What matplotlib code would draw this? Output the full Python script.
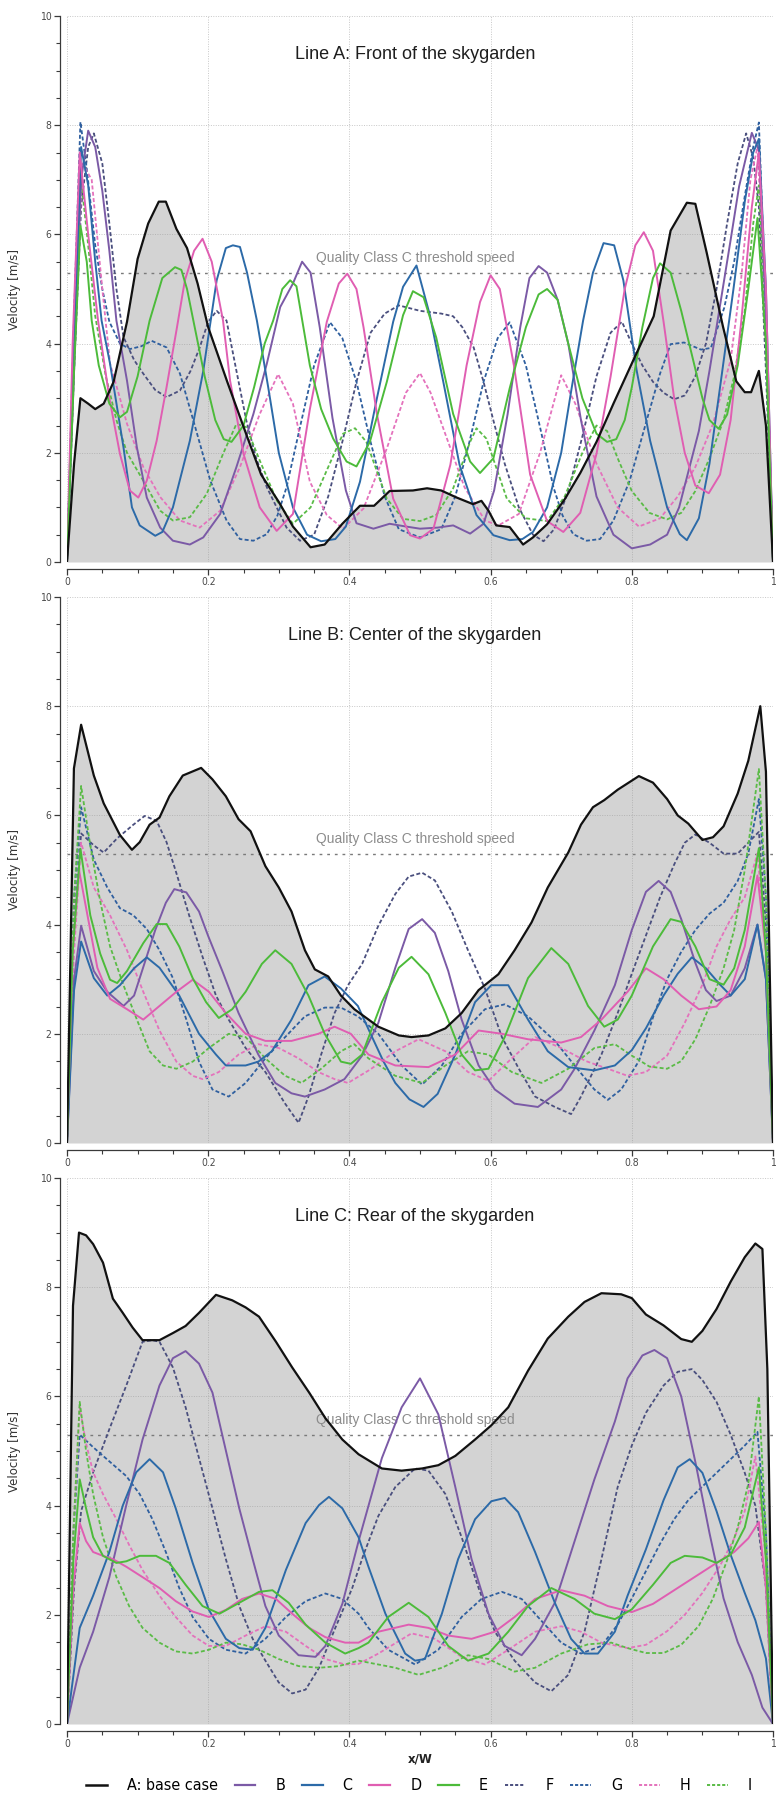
import matplotlib
matplotlib.use("Agg")
import matplotlib.pyplot as plt
from matplotlib.ticker import MultipleLocator, FuncFormatter
from matplotlib.lines import Line2D
from matplotlib.font_manager import FontProperties

series_labels = ["A: base case", "B", "C", "D", "E", "F", "G", "H", "I"]
series_colors = ["#111111", "#7b5aa6", "#2c6aa8", "#e05eb2", "#4cbb3a",
                 "#4a4f7e", "#2f5f9f", "#e472bc", "#5abb46"]
series_dashed = [False, False, False, False, False, True, True, True, True]
panel_titles = ["Line A: Front of the skygarden",
                "Line B: Center of the skygarden",
                "Line C: Rear of the skygarden"]
threshold_speed = 5.3
threshold_label = "Quality Class C threshold speed"

# ---------------- Line A: front ----------------
front_A = [(0,0),(0.01,1.8),(0.019,3.0),(0.03,2.9),(0.04,2.8),(0.052,2.9),(0.066,3.3),(0.085,4.4),(0.1,5.55),(0.115,6.2),(0.13,6.6),(0.14,6.6),(0.155,6.1),(0.17,5.75),(0.185,5.1),(0.2,4.3),(0.227,3.3),(0.255,2.3),(0.275,1.6),(0.3,1.1),(0.32,0.65),(0.345,0.27),(0.365,0.32),(0.39,0.7),(0.415,1.03),(0.435,1.03),(0.457,1.3),(0.49,1.31),(0.51,1.35),(0.53,1.31),(0.552,1.18),(0.575,1.06),(0.587,1.12),(0.597,0.94),(0.608,0.67),(0.627,0.64),(0.646,0.32),(0.66,0.45),(0.68,0.69),(0.705,1.15),(0.727,1.63),(0.75,2.2),(0.774,2.9),(0.803,3.72),(0.831,4.5),(0.855,6.07),(0.878,6.58),(0.89,6.56),(0.906,5.67),(0.929,4.32),(0.948,3.31),(0.96,3.11),(0.969,3.11),(0.98,3.5),(0.99,2.5),(1.0,0)]
front_B = [(0,0),(0.01,3.5),(0.02,7.0),(0.03,7.9),(0.04,7.6),(0.05,6.8),(0.06,5.7),(0.07,4.42),(0.085,3.32),(0.099,2.1),(0.113,1.18),(0.132,0.63),(0.15,0.39),(0.174,0.32),(0.193,0.45),(0.217,0.88),(0.24,1.74),(0.264,2.71),(0.283,3.63),(0.302,4.67),(0.32,5.1),(0.333,5.5),(0.345,5.3),(0.358,4.3),(0.376,2.64),(0.395,1.31),(0.41,0.71),(0.434,0.61),(0.457,0.7),(0.48,0.65),(0.5,0.61),(0.525,0.63),(0.547,0.67),(0.571,0.52),(0.59,0.7),(0.605,1.31),(0.624,2.7),(0.642,4.3),(0.655,5.2),(0.668,5.42),(0.68,5.3),(0.695,4.8),(0.71,4.0),(0.728,2.6),(0.75,1.2),(0.774,0.5),(0.8,0.25),(0.826,0.32),(0.85,0.5),(0.867,1.0),(0.895,2.4),(0.91,3.5),(0.925,4.7),(0.94,5.9),(0.952,6.88),(0.97,7.86),(0.98,7.55),(0.99,4.5),(1.0,0)]
front_C = [(0,0),(0.01,4.0),(0.02,7.6),(0.03,6.9),(0.04,5.5),(0.049,4.42),(0.061,3.63),(0.08,2.1),(0.092,1.0),(0.103,0.67),(0.125,0.48),(0.135,0.55),(0.15,1.0),(0.174,2.22),(0.193,3.5),(0.212,5.16),(0.225,5.75),(0.235,5.8),(0.245,5.77),(0.255,5.3),(0.269,4.42),(0.285,3.2),(0.3,2.0),(0.32,1.0),(0.34,0.5),(0.36,0.38),(0.38,0.42),(0.395,0.65),(0.415,1.47),(0.439,3.0),(0.462,4.4),(0.476,5.04),(0.495,5.43),(0.514,4.52),(0.533,3.3),(0.556,1.78),(0.58,0.86),(0.604,0.49),(0.627,0.4),(0.645,0.42),(0.66,0.55),(0.68,1.0),(0.7,2.0),(0.715,3.2),(0.731,4.42),(0.745,5.3),(0.76,5.84),(0.775,5.8),(0.788,5.16),(0.807,3.5),(0.826,2.22),(0.85,1.0),(0.868,0.51),(0.878,0.4),(0.895,0.8),(0.91,1.8),(0.925,3.2),(0.944,5.0),(0.96,6.6),(0.972,7.5),(0.98,7.75),(0.99,5.0),(1.0,0)]
front_D = [(0,0),(0.008,4.0),(0.018,7.5),(0.03,6.0),(0.044,4.42),(0.06,3.0),(0.075,1.98),(0.089,1.31),(0.101,1.18),(0.113,1.49),(0.127,2.22),(0.141,3.2),(0.155,4.24),(0.167,5.16),(0.18,5.7),(0.192,5.92),(0.205,5.5),(0.221,4.42),(0.231,3.32),(0.25,1.98),(0.273,1.0),(0.297,0.57),(0.32,0.88),(0.344,2.8),(0.368,4.4),(0.385,5.1),(0.397,5.28),(0.41,5.0),(0.42,4.3),(0.439,2.71),(0.462,1.16),(0.486,0.49),(0.5,0.43),(0.519,0.61),(0.543,1.78),(0.566,3.6),(0.585,4.76),(0.6,5.25),(0.613,5.0),(0.633,3.6),(0.656,1.6),(0.68,0.75),(0.703,0.55),(0.727,0.9),(0.75,1.98),(0.77,3.4),(0.79,5.0),(0.805,5.8),(0.817,6.04),(0.83,5.7),(0.845,4.4),(0.86,3.0),(0.875,2.0),(0.89,1.4),(0.909,1.26),(0.925,1.6),(0.94,2.6),(0.955,4.4),(0.97,6.5),(0.98,7.5),(0.99,5.0),(1.0,0)]
front_E = [(0,0),(0.01,3.5),(0.019,6.16),(0.028,5.5),(0.035,4.42),(0.045,3.6),(0.06,2.9),(0.075,2.65),(0.085,2.75),(0.1,3.4),(0.117,4.42),(0.135,5.2),(0.153,5.4),(0.162,5.35),(0.17,5.0),(0.179,4.42),(0.195,3.4),(0.21,2.6),(0.222,2.25),(0.233,2.2),(0.25,2.5),(0.265,3.2),(0.28,4.0),(0.292,4.42),(0.305,5.0),(0.316,5.16),(0.325,5.05),(0.344,3.6),(0.36,2.8),(0.377,2.26),(0.396,1.84),(0.41,1.75),(0.429,2.2),(0.453,3.3),(0.476,4.52),(0.49,4.96),(0.505,4.85),(0.523,4.11),(0.547,2.71),(0.571,1.84),(0.585,1.63),(0.604,1.9),(0.627,3.18),(0.65,4.3),(0.668,4.9),(0.68,5.0),(0.695,4.8),(0.71,4.0),(0.73,3.0),(0.75,2.35),(0.765,2.2),(0.778,2.25),(0.79,2.6),(0.8,3.2),(0.815,4.3),(0.83,5.2),(0.84,5.47),(0.855,5.3),(0.87,4.6),(0.885,3.8),(0.9,3.0),(0.91,2.6),(0.923,2.44),(0.935,2.7),(0.95,3.6),(0.965,5.0),(0.978,6.3),(0.99,4.0),(1.0,0)]
front_F = [(0,0),(0.01,3.5),(0.02,6.5),(0.03,7.6),(0.038,7.85),(0.05,7.3),(0.06,6.2),(0.07,5.0),(0.08,4.12),(0.095,3.7),(0.108,3.45),(0.125,3.15),(0.141,3.02),(0.16,3.14),(0.175,3.5),(0.188,3.93),(0.2,4.4),(0.212,4.6),(0.226,4.42),(0.24,3.5),(0.254,2.59),(0.268,1.9),(0.283,1.37),(0.311,0.63),(0.33,0.39),(0.35,0.5),(0.37,1.2),(0.39,2.2),(0.41,3.3),(0.43,4.2),(0.45,4.55),(0.47,4.7),(0.5,4.6),(0.53,4.55),(0.547,4.5),(0.56,4.3),(0.576,3.93),(0.59,3.3),(0.604,2.59),(0.62,1.8),(0.64,1.0),(0.66,0.5),(0.675,0.38),(0.69,0.6),(0.71,1.3),(0.73,2.3),(0.75,3.4),(0.77,4.2),(0.786,4.4),(0.8,4.0),(0.815,3.6),(0.83,3.3),(0.845,3.1),(0.86,2.98),(0.875,3.05),(0.89,3.4),(0.905,4.0),(0.92,5.0),(0.935,6.2),(0.95,7.3),(0.962,7.85),(0.972,7.4),(0.98,6.5),(0.99,3.5),(1.0,0)]
front_G = [(0,0),(0.01,4.5),(0.019,8.06),(0.028,7.2),(0.04,5.8),(0.05,5.0),(0.06,4.4),(0.075,4.0),(0.089,3.9),(0.105,3.95),(0.12,4.05),(0.141,3.93),(0.16,3.45),(0.179,2.59),(0.203,1.49),(0.226,0.76),(0.245,0.42),(0.264,0.39),(0.283,0.51),(0.298,0.85),(0.311,1.37),(0.33,2.47),(0.35,3.6),(0.3725,4.39),(0.39,4.1),(0.41,3.3),(0.43,2.2),(0.45,1.2),(0.47,0.6),(0.5,0.45),(0.53,0.6),(0.55,1.2),(0.57,2.2),(0.59,3.3),(0.61,4.1),(0.627,4.39),(0.65,3.6),(0.67,2.47),(0.689,1.37),(0.702,0.85),(0.717,0.51),(0.736,0.39),(0.755,0.42),(0.774,0.76),(0.797,1.49),(0.821,2.59),(0.84,3.45),(0.855,3.99),(0.874,4.02),(0.898,3.89),(0.912,3.92),(0.931,4.66),(0.945,5.5),(0.96,6.7),(0.972,7.6),(0.98,8.05),(0.99,4.5),(1.0,0)]
front_H = [(0,0),(0.01,4.0),(0.022,7.3),(0.035,7.0),(0.05,5.0),(0.061,3.63),(0.075,3.0),(0.085,2.53),(0.108,1.74),(0.132,1.19),(0.16,0.76),(0.188,0.63),(0.217,0.94),(0.245,1.74),(0.273,2.71),(0.299,3.44),(0.32,2.9),(0.344,1.47),(0.368,0.86),(0.391,0.61),(0.42,0.98),(0.453,2.08),(0.48,3.1),(0.5,3.46),(0.515,3.1),(0.534,2.41),(0.563,1.37),(0.592,0.76),(0.611,0.67),(0.64,0.88),(0.67,2.0),(0.7,3.42),(0.72,2.9),(0.75,1.8),(0.78,1.0),(0.81,0.65),(0.84,0.8),(0.865,1.2),(0.89,1.74),(0.915,2.53),(0.925,3.0),(0.94,3.7),(0.955,5.2),(0.968,7.0),(0.978,7.6),(0.99,4.5),(1.0,0)]
front_I = [(0,0),(0.01,4.0),(0.02,7.0),(0.03,5.8),(0.04,4.5),(0.055,3.4),(0.07,2.6),(0.085,2.0),(0.108,1.49),(0.132,0.94),(0.15,0.76),(0.174,0.82),(0.198,1.25),(0.221,1.98),(0.24,2.53),(0.254,2.47),(0.273,1.86),(0.297,1.13),(0.32,0.7),(0.345,1.0),(0.368,1.68),(0.391,2.35),(0.408,2.45),(0.424,2.2),(0.453,1.16),(0.476,0.79),(0.5,0.75),(0.523,0.86),(0.547,1.35),(0.571,2.2),(0.58,2.45),(0.594,2.26),(0.623,1.16),(0.65,0.8),(0.68,0.75),(0.705,1.2),(0.73,2.0),(0.75,2.5),(0.765,2.4),(0.78,1.9),(0.8,1.3),(0.825,0.9),(0.85,0.78),(0.87,0.9),(0.89,1.3),(0.91,1.9),(0.93,2.6),(0.945,3.4),(0.96,4.6),(0.972,6.2),(0.98,6.9),(0.99,4.0),(1.0,0)]

# ---------------- Line B: center ----------------
center_A = [(0,0),(0.0098,6.86),(0.02,7.66),(0.038,6.73),(0.052,6.22),(0.075,5.64),(0.092,5.37),(0.103,5.51),(0.117,5.83),(0.131,5.96),(0.145,6.35),(0.164,6.73),(0.19,6.87),(0.206,6.66),(0.225,6.35),(0.243,5.93),(0.26,5.71),(0.281,5.07),(0.3,4.68),(0.318,4.24),(0.337,3.53),(0.351,3.18),(0.37,3.05),(0.388,2.7),(0.407,2.45),(0.441,2.13),(0.47,1.97),(0.488,1.94),(0.512,1.97),(0.536,2.1),(0.559,2.38),(0.583,2.8),(0.611,3.09),(0.634,3.53),(0.658,4.04),(0.681,4.68),(0.71,5.32),(0.728,5.83),(0.745,6.15),(0.761,6.28),(0.78,6.47),(0.81,6.72),(0.83,6.6),(0.85,6.3),(0.865,6.0),(0.88,5.85),(0.9,5.55),(0.915,5.6),(0.93,5.8),(0.95,6.4),(0.965,7.0),(0.982,8.0),(0.99,6.8),(1.0,0)]
center_B = [(0,0),(0.01,3.0),(0.02,3.98),(0.038,3.15),(0.057,2.77),(0.08,2.51),(0.095,2.7),(0.11,3.3),(0.125,3.9),(0.14,4.4),(0.152,4.65),(0.169,4.59),(0.187,4.24),(0.2,3.79),(0.22,3.15),(0.243,2.38),(0.271,1.62),(0.295,1.1),(0.318,0.91),(0.337,0.85),(0.365,0.98),(0.393,1.17),(0.418,1.6),(0.441,2.2),(0.465,3.21),(0.484,3.92),(0.503,4.1),(0.521,3.85),(0.54,3.15),(0.559,2.26),(0.583,1.42),(0.606,0.98),(0.634,0.72),(0.667,0.66),(0.7,0.98),(0.719,1.36),(0.747,2.06),(0.776,2.89),(0.8,3.9),(0.82,4.6),(0.838,4.8),(0.855,4.6),(0.87,4.1),(0.89,3.3),(0.905,2.8),(0.92,2.6),(0.94,2.7),(0.96,3.2),(0.978,4.0),(0.99,3.0),(1.0,0)]
center_C = [(0,0),(0.01,2.8),(0.02,3.69),(0.038,3.02),(0.057,2.7),(0.075,2.89),(0.095,3.2),(0.113,3.4),(0.131,3.21),(0.159,2.7),(0.187,2.0),(0.211,1.62),(0.225,1.42),(0.253,1.42),(0.271,1.49),(0.29,1.68),(0.318,2.26),(0.342,2.89),(0.365,3.05),(0.388,2.83),(0.412,2.51),(0.43,2.0),(0.448,1.5),(0.465,1.1),(0.485,0.8),(0.505,0.66),(0.525,0.9),(0.55,1.62),(0.578,2.58),(0.601,2.89),(0.625,2.89),(0.653,2.26),(0.681,1.68),(0.71,1.39),(0.747,1.33),(0.776,1.42),(0.8,1.7),(0.82,2.1),(0.845,2.7),(0.865,3.1),(0.885,3.4),(0.905,3.2),(0.925,2.9),(0.94,2.7),(0.96,3.0),(0.978,4.0),(0.99,3.0),(1.0,0)]
center_D = [(0,0),(0.008,3.5),(0.017,5.0),(0.029,4.17),(0.043,3.21),(0.061,2.64),(0.085,2.45),(0.108,2.26),(0.131,2.51),(0.155,2.77),(0.178,2.99),(0.201,2.77),(0.225,2.38),(0.253,2.0),(0.281,1.87),(0.318,1.87),(0.356,2.0),(0.379,2.13),(0.402,2.0),(0.427,1.62),(0.465,1.42),(0.512,1.39),(0.55,1.62),(0.583,2.06),(0.616,2.0),(0.653,1.9),(0.7,1.84),(0.728,1.94),(0.757,2.26),(0.794,2.77),(0.82,3.2),(0.845,3.0),(0.87,2.7),(0.895,2.45),(0.92,2.5),(0.94,2.8),(0.96,3.6),(0.978,4.9),(0.99,3.5),(1.0,0)]
center_E = [(0,0),(0.008,3.5),(0.019,5.39),(0.033,4.17),(0.047,3.47),(0.061,2.99),(0.071,2.93),(0.085,3.15),(0.108,3.66),(0.127,4.01),(0.141,4.01),(0.159,3.6),(0.178,3.02),(0.197,2.58),(0.215,2.29),(0.234,2.45),(0.253,2.77),(0.276,3.28),(0.295,3.53),(0.318,3.28),(0.342,2.7),(0.365,2.0),(0.388,1.49),(0.402,1.45),(0.418,1.62),(0.446,2.58),(0.47,3.21),(0.488,3.41),(0.512,3.09),(0.536,2.38),(0.559,1.62),(0.578,1.33),(0.597,1.36),(0.62,1.94),(0.653,3.02),(0.686,3.57),(0.71,3.28),(0.738,2.51),(0.761,2.13),(0.78,2.26),(0.8,2.7),(0.83,3.6),(0.855,4.1),(0.87,4.05),(0.89,3.6),(0.91,3.0),(0.93,2.9),(0.945,3.2),(0.96,3.9),(0.98,5.4),(0.99,3.5),(1.0,0)]
center_F = [(0,0),(0.01,4.0),(0.02,5.67),(0.038,5.45),(0.052,5.32),(0.071,5.58),(0.094,5.83),(0.11,5.99),(0.127,5.9),(0.141,5.51),(0.155,4.94),(0.173,4.17),(0.192,3.41),(0.211,2.7),(0.229,2.26),(0.253,1.74),(0.281,1.3),(0.309,0.72),(0.328,0.37),(0.342,0.85),(0.36,1.62),(0.379,2.38),(0.398,2.89),(0.418,3.28),(0.441,3.98),(0.465,4.56),(0.484,4.88),(0.503,4.95),(0.521,4.81),(0.545,4.24),(0.568,3.53),(0.592,2.83),(0.616,1.94),(0.64,1.36),(0.663,0.85),(0.691,0.66),(0.714,0.53),(0.728,0.85),(0.757,1.62),(0.78,2.38),(0.8,3.1),(0.82,3.8),(0.84,4.5),(0.86,5.1),(0.875,5.5),(0.89,5.65),(0.91,5.5),(0.93,5.3),(0.95,5.3),(0.965,5.5),(0.98,5.7),(0.99,4.0),(1.0,0)]
center_G = [(0,0),(0.01,4.5),(0.02,6.15),(0.038,5.19),(0.057,4.68),(0.075,4.3),(0.094,4.17),(0.113,3.92),(0.131,3.53),(0.15,3.02),(0.169,2.26),(0.187,1.49),(0.206,0.98),(0.229,0.85),(0.253,1.1),(0.281,1.55),(0.309,1.94),(0.337,2.32),(0.365,2.48),(0.388,2.48),(0.412,2.32),(0.441,2.0),(0.474,1.42),(0.503,1.07),(0.531,1.42),(0.559,2.0),(0.592,2.45),(0.62,2.54),(0.653,2.32),(0.691,1.87),(0.719,1.42),(0.747,0.98),(0.766,0.79),(0.785,0.98),(0.81,1.5),(0.83,2.3),(0.85,3.0),(0.87,3.5),(0.89,3.9),(0.91,4.2),(0.93,4.4),(0.95,4.8),(0.965,5.3),(0.98,6.3),(0.99,4.5),(1.0,0)]
center_H = [(0,0),(0.01,3.5),(0.02,5.5),(0.038,4.68),(0.061,4.17),(0.085,3.53),(0.108,2.77),(0.131,2.06),(0.155,1.49),(0.178,1.23),(0.192,1.17),(0.215,1.3),(0.243,1.62),(0.271,1.81),(0.3,1.74),(0.328,1.55),(0.356,1.3),(0.379,1.17),(0.398,1.1),(0.43,1.35),(0.465,1.68),(0.498,1.9),(0.536,1.68),(0.568,1.3),(0.597,1.14),(0.625,1.49),(0.663,1.94),(0.7,1.74),(0.735,1.5),(0.766,1.36),(0.794,1.23),(0.82,1.3),(0.85,1.6),(0.875,2.2),(0.9,2.9),(0.92,3.6),(0.94,4.1),(0.96,4.5),(0.978,5.3),(0.99,3.5),(1.0,0)]
center_I = [(0,0),(0.01,4.5),(0.02,6.54),(0.033,5.45),(0.047,4.43),(0.061,3.6),(0.08,2.89),(0.099,2.26),(0.117,1.68),(0.136,1.42),(0.155,1.36),(0.178,1.49),(0.201,1.74),(0.229,2.0),(0.253,1.94),(0.281,1.55),(0.309,1.23),(0.332,1.1),(0.36,1.36),(0.388,1.68),(0.407,1.81),(0.427,1.55),(0.465,1.23),(0.503,1.1),(0.536,1.42),(0.568,1.68),(0.597,1.62),(0.63,1.3),(0.672,1.1),(0.71,1.36),(0.747,1.74),(0.776,1.81),(0.8,1.6),(0.825,1.4),(0.85,1.36),(0.87,1.5),(0.89,1.9),(0.91,2.5),(0.93,3.2),(0.945,3.9),(0.96,5.0),(0.98,6.85),(0.99,4.5),(1.0,0)]

# ---------------- Line C: rear ----------------
rear_A = [(0,0),(0.0085,7.66),(0.017,9.0),(0.027,8.95),(0.037,8.79),(0.051,8.45),(0.065,7.79),(0.079,7.53),(0.093,7.26),(0.107,7.03),(0.131,7.03),(0.15,7.16),(0.168,7.29),(0.187,7.53),(0.211,7.86),(0.234,7.76),(0.253,7.63),(0.272,7.46),(0.296,7.0),(0.319,6.53),(0.343,6.07),(0.366,5.6),(0.39,5.21),(0.413,4.94),(0.446,4.68),(0.474,4.64),(0.503,4.68),(0.526,4.74),(0.55,4.91),(0.578,5.21),(0.601,5.47),(0.625,5.8),(0.653,6.47),(0.681,7.06),(0.71,7.46),(0.733,7.73),(0.757,7.89),(0.785,7.87),(0.8,7.8),(0.82,7.5),(0.845,7.3),(0.87,7.05),(0.885,7.0),(0.9,7.2),(0.92,7.6),(0.94,8.1),(0.96,8.55),(0.975,8.8),(0.985,8.7),(0.992,6.5),(1.0,0)]
rear_B = [(0,0),(0.018,1.03),(0.037,1.69),(0.06,2.69),(0.084,4.01),(0.107,5.21),(0.131,6.2),(0.15,6.7),(0.168,6.83),(0.187,6.6),(0.206,6.07),(0.225,5.01),(0.244,3.95),(0.263,3.02),(0.281,2.16),(0.3,1.62),(0.328,1.26),(0.352,1.23),(0.366,1.43),(0.39,2.2),(0.413,3.35),(0.446,4.87),(0.474,5.8),(0.5,6.33),(0.526,5.67),(0.55,4.34),(0.573,3.02),(0.597,2.02),(0.62,1.43),(0.644,1.26),(0.663,1.56),(0.691,2.22),(0.719,3.35),(0.747,4.48),(0.776,5.54),(0.794,6.33),(0.815,6.75),(0.832,6.85),(0.85,6.7),(0.87,6.0),(0.89,4.8),(0.91,3.5),(0.93,2.3),(0.95,1.5),(0.97,0.9),(0.985,0.3),(1.0,0)]
rear_C = [(0,0),(0.018,1.76),(0.037,2.35),(0.06,3.15),(0.079,4.0),(0.098,4.61),(0.117,4.85),(0.136,4.61),(0.154,3.95),(0.178,2.95),(0.201,2.09),(0.225,1.56),(0.244,1.39),(0.263,1.36),(0.281,1.76),(0.31,2.82),(0.338,3.68),(0.357,4.01),(0.371,4.16),(0.39,3.95),(0.413,3.42),(0.427,2.88),(0.451,2.02),(0.479,1.29),(0.493,1.16),(0.507,1.19),(0.531,2.02),(0.554,3.02),(0.578,3.75),(0.601,4.08),(0.62,4.14),(0.639,3.88),(0.663,3.15),(0.691,2.22),(0.714,1.56),(0.733,1.29),(0.752,1.29),(0.776,1.69),(0.794,2.35),(0.82,3.2),(0.845,4.1),(0.865,4.7),(0.882,4.85),(0.9,4.6),(0.92,3.9),(0.94,3.1),(0.96,2.4),(0.975,1.9),(0.99,1.2),(1.0,0)]
rear_D = [(0,0),(0.009,2.5),(0.018,3.68),(0.027,3.35),(0.037,3.15),(0.051,3.08),(0.065,3.02),(0.084,2.88),(0.107,2.69),(0.131,2.49),(0.154,2.25),(0.178,2.06),(0.201,1.96),(0.225,2.09),(0.248,2.29),(0.272,2.39),(0.296,2.29),(0.319,2.02),(0.343,1.76),(0.366,1.59),(0.394,1.49),(0.413,1.49),(0.441,1.69),(0.484,1.82),(0.512,1.76),(0.54,1.62),(0.573,1.56),(0.606,1.69),(0.634,1.96),(0.663,2.29),(0.7,2.45),(0.733,2.35),(0.766,2.16),(0.8,2.05),(0.83,2.2),(0.86,2.45),(0.89,2.7),(0.92,2.95),(0.945,3.15),(0.965,3.4),(0.98,3.7),(0.99,2.5),(1.0,0)]
rear_E = [(0,0),(0.009,3.0),(0.018,4.48),(0.027,3.95),(0.037,3.42),(0.051,3.08),(0.07,2.95),(0.084,2.98),(0.103,3.08),(0.126,3.08),(0.145,2.95),(0.168,2.55),(0.192,2.16),(0.216,2.02),(0.244,2.22),(0.272,2.42),(0.291,2.45),(0.314,2.22),(0.338,1.82),(0.366,1.49),(0.394,1.29),(0.413,1.39),(0.427,1.49),(0.455,1.96),(0.484,2.22),(0.512,1.96),(0.54,1.43),(0.568,1.16),(0.597,1.29),(0.625,1.69),(0.653,2.16),(0.686,2.49),(0.719,2.29),(0.747,2.02),(0.776,1.92),(0.8,2.1),(0.83,2.55),(0.855,2.95),(0.875,3.08),(0.9,3.05),(0.92,2.95),(0.94,3.1),(0.96,3.6),(0.98,4.7),(0.99,3.0),(1.0,0)]
rear_F = [(0,0),(0.01,2.5),(0.02,3.9),(0.037,4.61),(0.06,5.4),(0.084,6.2),(0.107,7.0),(0.121,7.03),(0.131,7.0),(0.15,6.53),(0.168,5.8),(0.187,4.87),(0.206,3.95),(0.225,3.02),(0.244,2.16),(0.263,1.56),(0.281,1.16),(0.3,0.76),(0.319,0.56),(0.338,0.63),(0.357,1.03),(0.38,1.76),(0.404,2.49),(0.42,3.1),(0.441,3.81),(0.465,4.34),(0.493,4.68),(0.512,4.64),(0.536,4.21),(0.559,3.42),(0.583,2.49),(0.606,1.69),(0.634,1.16),(0.663,0.76),(0.686,0.6),(0.71,0.9),(0.733,1.69),(0.757,3.02),(0.78,4.34),(0.8,5.1),(0.82,5.7),(0.845,6.2),(0.865,6.45),(0.885,6.5),(0.9,6.3),(0.92,5.9),(0.94,5.3),(0.96,4.6),(0.975,4.0),(0.99,2.5),(1.0,0)]
rear_G = [(0,0),(0.009,3.5),(0.018,5.3),(0.037,5.07),(0.06,4.81),(0.084,4.54),(0.103,4.21),(0.121,3.75),(0.14,3.15),(0.159,2.49),(0.178,1.96),(0.201,1.56),(0.225,1.36),(0.253,1.29),(0.281,1.56),(0.31,1.96),(0.338,2.25),(0.366,2.39),(0.39,2.29),(0.413,2.02),(0.427,1.76),(0.455,1.36),(0.493,1.09),(0.526,1.36),(0.559,1.96),(0.587,2.29),(0.616,2.42),(0.644,2.29),(0.672,1.89),(0.7,1.49),(0.728,1.29),(0.757,1.43),(0.78,1.82),(0.8,2.3),(0.82,2.8),(0.84,3.3),(0.86,3.75),(0.88,4.1),(0.9,4.35),(0.92,4.6),(0.94,4.85),(0.96,5.1),(0.978,5.35),(0.99,3.5),(1.0,0)]
rear_H = [(0,0),(0.009,3.5),(0.018,5.8),(0.027,5.14),(0.037,4.61),(0.051,4.21),(0.07,3.75),(0.088,3.28),(0.107,2.82),(0.131,2.35),(0.154,1.96),(0.178,1.62),(0.201,1.43),(0.225,1.43),(0.253,1.62),(0.281,1.79),(0.31,1.69),(0.338,1.43),(0.366,1.19),(0.394,1.09),(0.413,1.1),(0.441,1.29),(0.488,1.66),(0.521,1.56),(0.559,1.23),(0.592,1.09),(0.625,1.36),(0.663,1.69),(0.7,1.79),(0.728,1.69),(0.757,1.49),(0.794,1.39),(0.82,1.45),(0.85,1.7),(0.875,2.0),(0.9,2.4),(0.925,2.9),(0.945,3.4),(0.96,3.9),(0.975,4.9),(0.99,3.0),(1.0,0)]
rear_I = [(0,0),(0.009,3.5),(0.018,5.9),(0.027,5.0),(0.037,4.21),(0.051,3.42),(0.07,2.69),(0.088,2.16),(0.107,1.76),(0.131,1.49),(0.154,1.33),(0.178,1.29),(0.201,1.36),(0.225,1.49),(0.248,1.46),(0.272,1.36),(0.3,1.19),(0.328,1.06),(0.357,1.03),(0.385,1.06),(0.413,1.16),(0.441,1.09),(0.465,1.03),(0.498,0.9),(0.531,1.03),(0.568,1.26),(0.597,1.19),(0.634,0.96),(0.663,1.03),(0.7,1.29),(0.738,1.46),(0.771,1.49),(0.794,1.39),(0.82,1.3),(0.845,1.3),(0.87,1.45),(0.895,1.8),(0.915,2.3),(0.935,3.0),(0.95,3.6),(0.965,4.4),(0.98,6.0),(0.99,3.5),(1.0,0)]

panels = [
    (panel_titles[0], [front_A, front_B, front_C, front_D, front_E, front_F, front_G, front_H, front_I]),
    (panel_titles[1], [center_A, center_B, center_C, center_D, center_E, center_F, center_G, center_H, center_I]),
    (panel_titles[2], [rear_A, rear_B, rear_C, rear_D, rear_E, rear_F, rear_G, rear_H, rear_I]),
]

W, H = 776, 1800
boxes = [(16, 562), (597, 1143), (1178, 1724)]
ax_left, ax_right = 67, 773

tick_font = FontProperties(family="DejaVu Sans", stretch="condensed", size=7.5)
legend_font = FontProperties(family="DejaVu Sans", stretch="condensed", size=11.5)

fig = plt.figure(figsize=(W / 100, H / 100), dpi=100)
fig.patch.set_facecolor("white")

dash_style = (0, (2.2, 1.3))

for (title, curves), (top, bot) in zip(panels, boxes):
    ax = fig.add_axes([ax_left / W, 1 - bot / H, (ax_right - ax_left) / W, (bot - top) / H])
    ax.set_xlim(0, 1)
    ax.set_ylim(0, 10)

    # base case fill
    bx = [p[0] for p in curves[0]]
    by = [p[1] for p in curves[0]]
    ax.fill_between(bx, by, 0, color="#d3d3d3", lw=0, zorder=1)

    # grid
    ax.set_axisbelow(False)
    ax.grid(True, which="major", color="#9a9a9a", linestyle=(0, (1, 1.5)), linewidth=0.7, alpha=0.55)
    for gl in ax.get_xgridlines() + ax.get_ygridlines():
        gl.set_zorder(2)

    # threshold
    ax.axhline(threshold_speed, color="#7a7a7a", lw=1.0, linestyle=(0, (2, 3.5)), zorder=2.2)
    ax.text(0.493, threshold_speed + 0.2, threshold_label, ha="center", va="baseline",
            color="#8c8c8c", fontsize=10, family="Liberation Sans", zorder=2.3)

    # curves (colored first, base case on top)
    order = [1, 2, 3, 4, 5, 6, 7, 8, 0]
    for k in order:
        xs = [p[0] for p in curves[k]]
        ys = [p[1] for p in curves[k]]
        if series_dashed[k]:
            ax.plot(xs, ys, color=series_colors[k], lw=1.3, linestyle=dash_style, zorder=3)
        else:
            lw = 1.6 if k == 0 else 1.4
            ax.plot(xs, ys, color=series_colors[k], lw=lw, zorder=3.5 if k == 0 else 3.2)

    ax.text(0.493, 9.3, title, ha="center", va="center", fontsize=13,
            family="Liberation Sans", color="#1e1e1e")

    # axes styling
    for s in ["top", "right"]:
        ax.spines[s].set_visible(False)
    ax.spines["left"].set_position(("outward", 5))
    ax.spines["bottom"].set_position(("outward", 5))
    for s in ["left", "bottom"]:
        ax.spines[s].set_color("#3a3a3a")
        ax.spines[s].set_linewidth(0.9)
    ax.xaxis.set_major_locator(MultipleLocator(0.2))
    ax.xaxis.set_minor_locator(MultipleLocator(0.05))
    ax.yaxis.set_major_locator(MultipleLocator(2))
    ax.yaxis.set_minor_locator(MultipleLocator(0.5))
    ax.xaxis.set_major_formatter(FuncFormatter(lambda v, p: "%g" % round(v, 2)))
    ax.yaxis.set_major_formatter(FuncFormatter(lambda v, p: "%g" % round(v, 2)))
    ax.tick_params(which="major", direction="out", length=4.5, width=0.9, color="#3a3a3a",
                   labelcolor="#4a4a4a", pad=1.5)
    ax.tick_params(which="minor", direction="out", length=2.8, width=0.8, color="#3a3a3a")
    for lab in ax.get_xticklabels() + ax.get_yticklabels():
        lab.set_fontproperties(tick_font)

    ax.set_ylabel("Velocity [m/s]", fontsize=8.5, family="DejaVu Sans", color="#333333")
    ax.yaxis.set_label_coords(-(ax_left - 21) / (ax_right - ax_left), 0.5)

ax.set_xlabel("x/W", fontsize=8.5, fontweight="bold", family="DejaVu Sans", color="#222222", labelpad=2)

handles = []
for k in range(9):
    if series_dashed[k]:
        handles.append(Line2D([], [], color=series_colors[k], lw=1.4, linestyle=(0, (1.6, 1.0))))
    else:
        handles.append(Line2D([], [], color=series_colors[k], lw=1.8 if k == 0 else 1.6))
fig.legend(handles, series_labels, loc="center", bbox_to_anchor=(419 / W, 1 - 1786 / H),
           ncol=9, frameon=False, prop=legend_font, handlelength=1.3, handletextpad=1.25,
           columnspacing=1.05, borderaxespad=0)

fig.savefig("out.png", dpi=100, facecolor="white")
